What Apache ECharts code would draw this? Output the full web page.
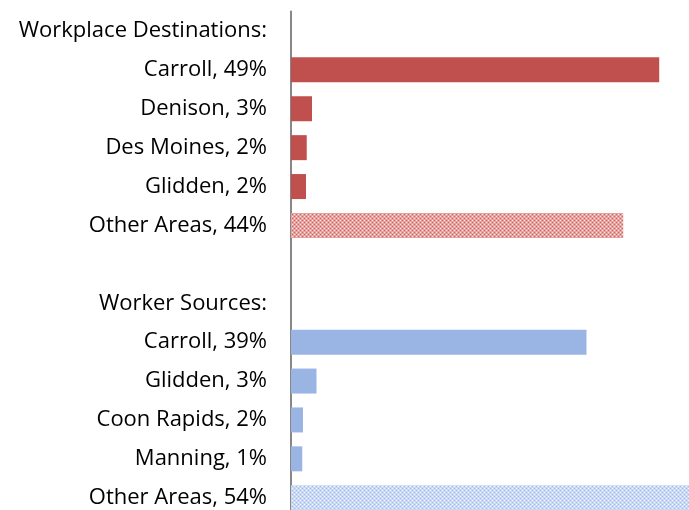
<!DOCTYPE html>
<html>
<head>
<meta charset="utf-8">
<script src="https://cdn.jsdelivr.net/npm/echarts@6/dist/echarts.min.js"></script>
<style>html,body{margin:0;padding:0;background:#fff;overflow:hidden}#c{width:689px;height:530px}</style>
</head>
<body>
<div id="c"></div>
<script>
var destHeader = 'Workplace Destinations:';
var destNames = ['Carroll, 49%', 'Denison, 3%', 'Des Moines, 2%', 'Glidden, 2%', 'Other Areas, 44%'];
var destValues = [49.1, 2.8, 2.1, 2.0, 44.3];
var srcHeader = 'Worker Sources:';
var srcNames = ['Carroll, 39%', 'Glidden, 3%', 'Coon Rapids, 2%', 'Manning, 1%', 'Other Areas, 54%'];
var srcValues = [39.4, 3.4, 1.6, 1.5, 54.3];

function makePattern(base, light, dark) {
  var c = document.createElement('canvas');
  c.width = 4; c.height = 4;
  var g = c.getContext('2d');
  g.fillStyle = base; g.fillRect(0, 0, 4, 4);
  g.fillStyle = light; g.fillRect(0, 0, 1, 1); g.fillRect(2, 2, 1, 1);
  g.fillStyle = dark; g.fillRect(2, 0, 1, 1); g.fillRect(0, 2, 1, 1);
  return c;
}
var redSolid = '#C0504D';
var blueSolid = '#9AB5E4';
var redPat = {image: makePattern('#E6A09E', '#FBEAEA', '#CF6562'), repeat: 'repeat'};
var bluePat = {image: makePattern('#C9D9F3', '#F4F8FE', '#A6BFEA'), repeat: 'repeat'};

var categories = [destHeader].concat(destNames, [''], [srcHeader], srcNames);
var data = [null];
destValues.forEach(function (v, i) {
  data.push({value: v, itemStyle: {color: i === destValues.length - 1 ? redPat : redSolid}});
});
data.push(null, null);
srcValues.forEach(function (v, i) {
  data.push({value: v, itemStyle: {color: i === srcValues.length - 1 ? bluePat : blueSolid}});
});

var chart = echarts.init(document.getElementById('c'), null, {renderer: 'canvas'});
chart.setOption({
  animation: false,
  grid: {left: 291, right: 0, top: 11.5, height: 505.7, containLabel: false},
  xAxis: {type: 'value', min: 0, max: 53.07, show: false},
  yAxis: {
    type: 'category', data: categories, inverse: true,
    axisLine: {show: true, lineStyle: {color: '#878787', width: 2}},
    axisTick: {show: false},
    splitLine: {show: false},
    axisLabel: {color: '#000', fontFamily: 'Open Sans', fontSize: 22, margin: 24, padding: [5, 0, 0, 0]}
  },
  series: [{
    type: 'bar', data: data, barWidth: 25, clip: true
  }]
});
</script>
</body>
</html>
